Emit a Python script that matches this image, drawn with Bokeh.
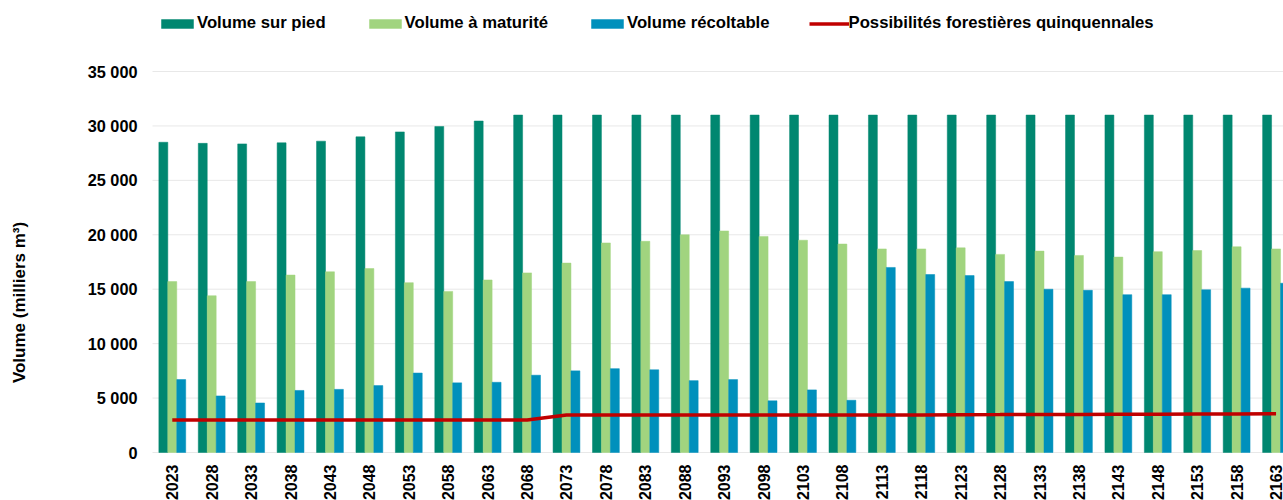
import math
from bokeh.plotting import figure
from bokeh.models import (ColumnDataSource, FixedTicker, Legend, LegendItem, Label, Range1d)
from bokeh.transform import dodge
from bokeh.embed import file_html
from bokeh.resources import INLINE

years = [2023, 2028, 2033, 2038, 2043, 2048, 2053, 2058, 2063, 2068,
         2073, 2078, 2083, 2088, 2093, 2098, 2103, 2108, 2113, 2118,
         2123, 2128, 2133, 2138, 2143, 2148, 2153, 2158, 2163]

volume_sur_pied = [28500, 28400, 28350, 28450, 28600, 29000, 29450, 29950, 30450, 31000,
                   31000, 31000, 31000, 31000, 31000, 31000, 31000, 31000, 31000, 31000,
                   31000, 31000, 31000, 31000, 31000, 31000, 31000, 31000, 31000]

volume_maturite = [15700, 14400, 15700, 16300, 16600, 16900, 15600, 14800, 15850, 16500,
                   17400, 19250, 19400, 20000, 20350, 19850, 19500, 19150, 18700, 18700,
                   18800, 18200, 18500, 18100, 17950, 18450, 18550, 18900, 18700]

volume_recoltable = [6700, 5200, 4550, 5700, 5800, 6150, 7300, 6400, 6450, 7100,
                     7500, 7700, 7600, 6600, 6700, 4750, 5750, 4800, 17000, 16350,
                     16250, 15700, 15000, 14900, 14500, 14500, 14950, 15100, 15550]

possibilites = [2980, 2980, 2980, 2980, 2980, 2980, 2980, 2980, 2980, 2980,
                3440, 3440, 3440, 3440, 3440, 3440, 3440, 3440, 3440, 3450,
                3470, 3480, 3500, 3500, 3510, 3520, 3530, 3540, 3550]

y_ticks = [0, 5000, 10000, 15000, 20000, 25000, 30000, 35000]
y_tick_labels = ["0", "5 000", "10 000", "15 000", "20 000", "25 000", "30 000", "35 000"]

series_names = ["Volume sur pied", "Volume à maturité", "Volume récoltable",
                "Possibilités forestières quinquennales"]
y_label = "Volume (milliers m³)"

C_DARK = "#008770"
C_LIGHT = "#a1d47f"
C_BLUE = "#0090bc"
C_RED = "#c00000"
C_GRID = "#e8e8e8"
FONT = "Liberation Sans"

W, H = 1283, 500
# plot area in canvas pixels
FR_LEFT, FR_TOP, FR_BOTTOM = 152, 71, 452
CAT_W = 39.42           # pixels per category
Y_MAX = 35000
px_per_unit = (FR_BOTTOM - FR_TOP) / Y_MAX
x0 = -0.502
x_start = x0 - FR_LEFT / CAT_W
x_end = x_start + W / CAT_W
y_start = -(H - FR_BOTTOM) / px_per_unit
y_end = Y_MAX + FR_TOP / px_per_unit

xs = list(range(len(years)))
src = ColumnDataSource(dict(x=xs, a=volume_sur_pied, b=volume_maturite,
                            c=volume_recoltable, d=possibilites))

p = figure(width=W, height=H, output_backend="svg", toolbar_location=None,
           x_range=Range1d(x_start, x_end), y_range=Range1d(y_start, y_end),
           min_border=0)
p.outline_line_color = None
p.xgrid.visible = False
p.ygrid.visible = False

# horizontal gridlines limited to the plot area
p.segment(x0=[x0] * len(y_ticks), x1=[x_end] * len(y_ticks), y0=y_ticks, y1=y_ticks,
          line_color=C_GRID, line_width=1)

bw = 0.227
r1 = p.vbar(x=dodge("x", -bw, range=p.x_range), top="a", width=bw, source=src,
            fill_color=C_DARK, line_color=C_DARK, line_width=0.5)
r2 = p.vbar(x=dodge("x", 0, range=p.x_range), top="b", width=bw, source=src,
            fill_color=C_LIGHT, line_color=C_LIGHT, line_width=0.5)
r3 = p.vbar(x=dodge("x", bw, range=p.x_range), top="c", width=bw, source=src,
            fill_color=C_BLUE, line_color=C_BLUE, line_width=0.5)
r4 = p.line(x="x", y="d", source=src, line_color=C_RED, line_width=3.5)

# x axis (fixed at y = 0)
xa = p.xaxis[0]
xa.fixed_location = 0
xa.ticker = FixedTicker(ticks=xs)
xa.major_label_overrides = {i: str(y) for i, y in zip(xs, years)}
xa.major_label_orientation = math.pi / 2
xa.axis_line_color = None
xa.major_tick_out = 0
xa.major_tick_in = 0
xa.minor_tick_out = 0
xa.minor_tick_in = 0
xa.major_label_standoff = 12
xa.major_label_text_font = FONT
xa.major_label_text_font_style = "bold"
xa.major_label_text_font_size = "16px"
xa.major_label_text_color = "#000000"

# y axis (fixed at the left edge of the plot area)
ya = p.yaxis[0]
ya.fixed_location = x0
ya.ticker = FixedTicker(ticks=y_ticks)
ya.major_label_overrides = {t: l for t, l in zip(y_ticks, y_tick_labels)}
ya.axis_line_color = None
ya.major_tick_out = 0
ya.major_tick_in = 0
ya.minor_tick_out = 0
ya.minor_tick_in = 0
ya.major_label_standoff = 15
ya.major_label_text_font = FONT
ya.major_label_text_font_style = "bold"
ya.major_label_text_font_size = "16.3px"
ya.major_label_text_color = "#000000"

p.add_layout(Label(x=19, y=H - 302, x_units="screen", y_units="screen",
                   text=y_label, angle=math.pi / 2, text_align="center",
                   text_baseline="middle", text_font=FONT, text_font_style="bold",
                   text_font_size="17px", text_color="#000000"))

legend = Legend(items=[LegendItem(label=series_names[0], renderers=[r1]),
                       LegendItem(label=series_names[1], renderers=[r2]),
                       LegendItem(label=series_names[2], renderers=[r3]),
                       LegendItem(label=series_names[3], renderers=[r4])],
                orientation="horizontal", location=(157, H - 33),
                glyph_width=40, glyph_height=11, label_standoff=0, spacing=39,
                label_height=18, padding=0, margin=0,
                label_text_font=FONT, label_text_font_style="bold",
                label_text_font_size="16.7px", label_text_color="#000000",
                background_fill_alpha=0, border_line_alpha=0)
p.add_layout(legend, "center")

open("out.html", "w").write(file_html(p, INLINE))
